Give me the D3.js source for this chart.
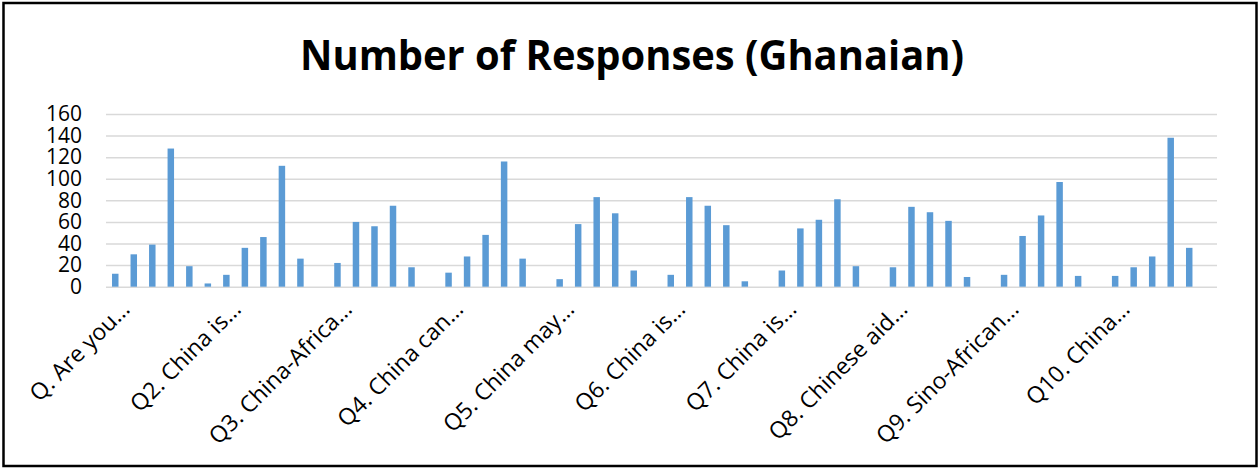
<!DOCTYPE html>
<html>
<head>
<meta charset="utf-8">
<script src="https://cdn.jsdelivr.net/npm/d3@7"></script>
<style>
  body { margin: 0; background: #fff; }
</style>
</head>
<body>
<div class="chart"></div>
<script>
// questions only get a label on the first of their 6 rows
const questions = ["Q. Are you\u2026", "Q2. China is\u2026", "Q3. China-Africa\u2026", "Q4. China can\u2026",
  "Q5. China may\u2026", "Q6. China is\u2026", "Q7. China is\u2026", "Q8. Chinese aid\u2026",
  "Q9. Sino-African\u2026", "Q10. China\u2026"];
const rowsPerQuestion = 6;
const responses = [
  12, 30, 39, 128, 19, 3,
  11, 36, 46, 112, 26, 0,
  22, 60, 56, 75, 18, 0,
  13, 28, 48, 116, 26, 0,
  7, 58, 83, 68, 15, 0,
  11, 83, 75, 57, 5, 0,
  15, 54, 62, 81, 19, 0,
  18, 74, 69, 61, 9, 0,
  11, 47, 66, 97, 10, 0,
  10, 18, 28, 138, 36, 0
];
const yTicks = [0, 20, 40, 60, 80, 100, 120, 140, 160];

const width = 1260, height = 468;
const plotLeft = 106, plotRight = 1217, plotTop = 114, plotBottom = 286.7;
const font = "'Open Sans', sans-serif";

const svg = d3.select(".chart").append("svg")
    .attr("width", width)
    .attr("height", height);

// frame
svg.append("rect")
    .attr("x", 3.5).attr("y", 3)
    .attr("width", 1253).attr("height", 463)
    .attr("fill", "white")
    .attr("stroke", "black")
    .attr("stroke-width", 2.5);

svg.append("text")
    .attr("x", 632)
    .attr("y", 70)
    .attr("text-anchor", "middle")
    .attr("font-family", font)
    .attr("font-weight", "bold")
    .attr("font-size", 42)
    .attr("textLength", 664)
    .attr("lengthAdjust", "spacingAndGlyphs")
    .text("Number of Responses (Ghanaian)");

const x = d3.scaleBand()
    .domain(d3.range(responses.length))
    .range([plotLeft, plotRight])
    .paddingInner(0.65)
    .paddingOuter(0.325);

const y = d3.scaleLinear()
    .domain([0, 160])
    .range([plotBottom, plotTop]);

// gridlines + y labels
const yAxis = svg.append("g")
    .attr("transform", `translate(${plotLeft},0)`)
    .call(d3.axisLeft(y).tickValues(yTicks).tickSize(-(plotRight - plotLeft)).tickPadding(24));
yAxis.select(".domain").remove();
yAxis.selectAll(".tick line").attr("stroke", "#d9d9d9").attr("stroke-width", 1.5);
yAxis.selectAll(".tick text")
    .attr("font-family", font)
    .attr("font-size", 21)
    .attr("fill", "black");

svg.selectAll(".bar")
    .data(responses)
    .enter()
  .append("rect")
    .attr("class", "bar")
    .attr("x", (d, i) => x(i))
    .attr("width", x.bandwidth())
    .attr("y", d => y(d))
    .attr("height", d => y(0) - y(d))
    .attr("fill", "#5b9bd5");

// x axis, only every 6th row is labelled
const xAxis = svg.append("g")
    .attr("transform", `translate(0,${plotBottom})`)
    .call(d3.axisBottom(x)
        .tickValues(d3.range(0, responses.length, rowsPerQuestion))
        .tickFormat(i => questions[i / rowsPerQuestion])
        .tickSize(0));
xAxis.select(".domain").remove();
xAxis.selectAll(".tick text")
    .attr("font-family", font)
    .attr("font-size", 23)
    .attr("fill", "black")
    .attr("text-anchor", "end")
    .attr("dy", null)
    .attr("y", null)
    .attr("transform", "translate(16,24) rotate(-45)");
</script>
</body>
</html>
